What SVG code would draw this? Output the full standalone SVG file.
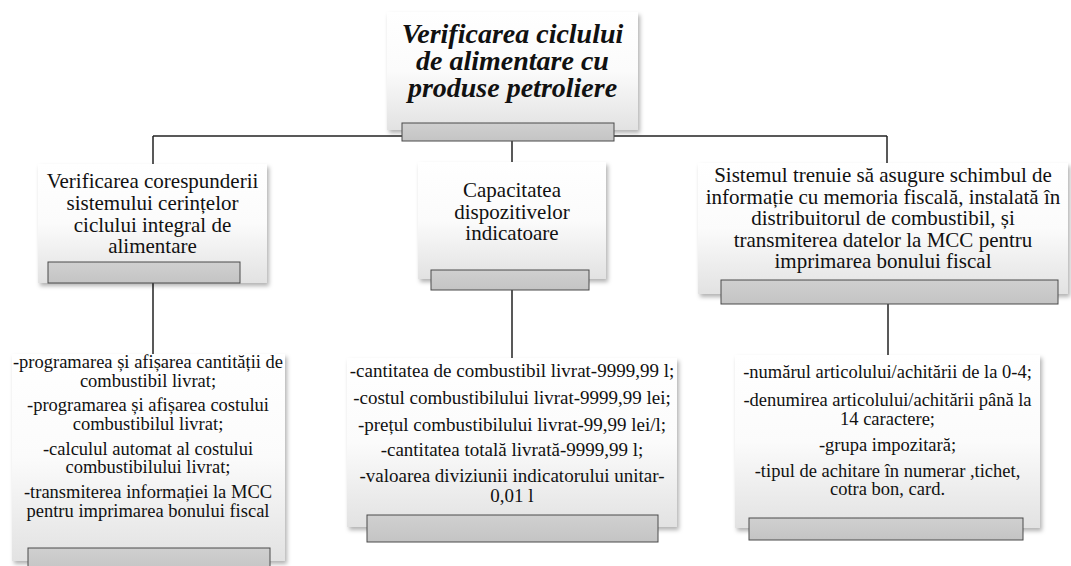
<svg xmlns="http://www.w3.org/2000/svg" width="1071" height="566" viewBox="0 0 1071 566">
<defs>
<linearGradient id="bg" x1="0" y1="0" x2="0" y2="1">
<stop offset="0" stop-color="#ffffff"/>
<stop offset="0.5" stop-color="#fbfbfb"/>
<stop offset="1" stop-color="#e2e2e2"/>
</linearGradient>
<linearGradient id="tg" x1="0" y1="0" x2="0" y2="1">
<stop offset="0" stop-color="#d0d0d0"/>
<stop offset="1" stop-color="#c4c4c4"/>
</linearGradient>
<filter id="sh" x="-10%" y="-10%" width="125%" height="130%">
<feDropShadow dx="2" dy="3" stdDeviation="2" flood-color="#000" flood-opacity="0.3"/>
</filter>
</defs>
<style>
.box{fill:url(#bg);filter:url(#sh);}
.tab{fill:url(#tg);stroke:#4a4a4a;stroke-width:1;}
.con{stroke:#222;stroke-width:1.5;fill:none;}
text{font-family:'Liberation Serif','Times New Roman',Times,serif;fill:#111;text-anchor:middle;}
.title{font-size:28px;font-weight:bold;font-style:italic;}
.mid{font-size:21px;}
.l4{font-size:18.5px;}
.l5{font-size:19px;}
.l6{font-size:18.5px;}
</style>
<rect width="1071" height="566" fill="#ffffff"/>
<g id="connectors">
<path class="con" d="M153,136 H887"/>
<path class="con" d="M153,136 V164"/>
<path class="con" d="M512,130 V162"/>
<path class="con" d="M887,136 V163"/>
<path class="con" d="M153,283 V354"/>
<path class="con" d="M512,290 V358"/>
<path class="con" d="M888,304 V355"/>
</g>
<g id="root">
<rect class="box" x="387" y="12" width="251" height="118"/>
<text class="title" x="512.5" y="43">Verificarea ciclului</text>
<text class="title" x="512.5" y="70">de alimentare cu</text>
<text class="title" x="512.5" y="97">produse petroliere</text>
<rect class="tab" x="402" y="123" width="212" height="18"/>
</g>
<g id="n1">
<rect class="box" x="38" y="164" width="229" height="119"/>
<text class="mid" x="152.5" y="188">Verificarea corespunderii</text>
<text class="mid" x="152.5" y="210">sistemului cerințelor</text>
<text class="mid" x="152.5" y="232">ciclului integral de</text>
<text class="mid" x="152.5" y="253">alimentare</text>
<rect class="tab" x="48" y="262" width="192" height="21"/>
</g>
<g id="n2">
<rect class="box" x="418" y="162" width="188" height="117"/>
<text class="mid" x="512" y="197">Capacitatea</text>
<text class="mid" x="512" y="219">dispozitivelor</text>
<text class="mid" x="512" y="240">indicatoare</text>
<rect class="tab" x="431" y="270" width="158" height="20"/>
</g>
<g id="n3">
<rect class="box" x="698" y="163" width="370" height="131"/>
<text class="mid" x="883" y="182">Sistemul trenuie să asugure schimbul de</text>
<text class="mid" x="883" y="203.5">informație cu memoria fiscală, instalată în</text>
<text class="mid" x="883" y="225">distribuitorul de combustibil, și</text>
<text class="mid" x="883" y="246.5">transmiterea datelor la MCC pentru</text>
<text class="mid" x="883" y="268">imprimarea bonului fiscal</text>
<rect class="tab" x="721" y="280" width="337" height="24"/>
</g>
<g id="n4">
<rect class="box" x="12" y="354" width="273" height="207"/>
<text class="l4" x="148" y="368">-programarea și afișarea cantității de</text>
<text class="l4" x="148" y="387">combustibil livrat;</text>
<text class="l4" x="148" y="411">-programarea și afișarea costului</text>
<text class="l4" x="148" y="430">combustibilul livrat;</text>
<text class="l4" x="148" y="455">-calculul automat al costului</text>
<text class="l4" x="148" y="473">combustibilului livrat;</text>
<text class="l4" x="148" y="498">-transmiterea informației la MCC</text>
<text class="l4" x="148" y="517">pentru imprimarea bonului fiscal</text>
<rect class="tab" x="28" y="548" width="242" height="24"/>
</g>
<g id="n5">
<rect class="box" x="347" y="358" width="330" height="169"/>
<text class="l5" x="512" y="377">-cantitatea de combustibil livrat-9999,99 l;</text>
<text class="l5" x="512" y="404">-costul combustibilului livrat-9999,99 lei;</text>
<text class="l5" x="512" y="431">-prețul combustibilului livrat-99,99 lei/l;</text>
<text class="l5" x="512" y="456">-cantitatea totală livrată-9999,99 l;</text>
<text class="l5" x="512" y="482">-valoarea diviziunii indicatorului unitar-</text>
<text class="l5" x="512" y="502">0,01 l</text>
<rect class="tab" x="367" y="515" width="291" height="27"/>
</g>
<g id="n6">
<rect class="box" x="735" y="355" width="305" height="173"/>
<text class="l6" x="887.5" y="378">-numărul articolului/achitării de la 0-4;</text>
<text class="l6" x="887.5" y="406">-denumirea articolului/achitării până la</text>
<text class="l6" x="887.5" y="425">14 caractere;</text>
<text class="l6" x="887.5" y="451">-grupa impozitară;</text>
<text class="l6" x="887.5" y="477">-tipul de achitare în numerar ,tichet,</text>
<text class="l6" x="887.5" y="495">cotra bon, card.</text>
<rect class="tab" x="749" y="518" width="274" height="22"/>
</g>
</svg>
